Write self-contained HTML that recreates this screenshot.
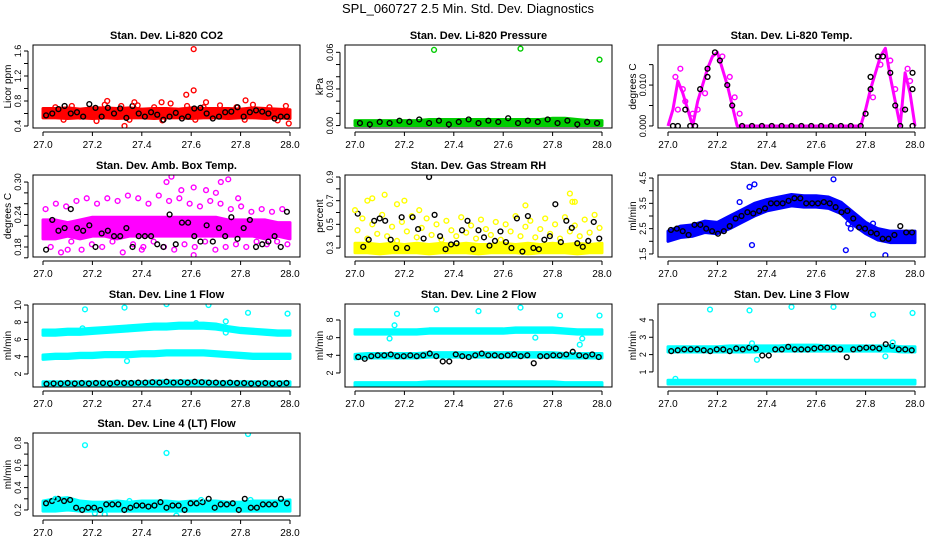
<!DOCTYPE html>
<html><head><meta charset="utf-8"><style>
body{margin:0;background:#fff}
svg{display:block}
text{font-family:"Liberation Sans",sans-serif}
</style></head><body>
<svg id="c" width="936" height="540" viewBox="0 0 936 540" xmlns="http://www.w3.org/2000/svg">
<text x="468" y="13" text-anchor="middle" font-size="13">SPL_060727  2.5 Min. Std. Dev. Diagnostics</text>
</svg>
<script>
// ---------- data ----------
const xTicks=[27.0,27.2,27.4,27.6,27.8,28.0];
const xTickLabels=["27.0","27.2","27.4","27.6","27.8","28.0"];
const bandX=[27.0,27.05,27.1,27.15,27.2,27.25,27.3,27.35,27.4,27.45,27.5,27.55,27.6,27.65,27.7,27.75,27.8,27.85,27.9,27.95,28.0];

// P1 CO2
const co2Lo=[0.53,0.53,0.52,0.53,0.52,0.53,0.52,0.53,0.53,0.52,0.53,0.53,0.52,0.53,0.53,0.52,0.53,0.53,0.52,0.53,0.52];
const co2Hi=[0.68,0.68,0.69,0.67,0.69,0.69,0.68,0.69,0.67,0.68,0.68,0.67,0.69,0.68,0.68,0.68,0.67,0.69,0.68,0.67,0.66];
const co2Scatter=[0.62,0.7,0.5,0.72,0.55,0.66,0.48,0.74,0.6,0.72,0.5,0.73,0.58,0.7,0.49,0.76,0.62,0.72,0.5,0.7,0.55,0.73,0.6,0.7,0.5,0.74,0.63,0.7,0.49,0.72];
const co2OutX=[27.61,27.61,27.58,27.33,27.995,27.82,27.26,27.48,27.37,27.66];
const co2OutY=[1.63,0.97,0.9,0.4,0.44,0.81,0.8,0.78,0.78,0.78];
const co2Black=[0.57,0.6,0.67,0.72,0.6,0.62,0.55,0.75,0.69,0.55,0.69,0.6,0.68,0.53,0.72,0.6,0.55,0.62,0.58,0.5,0.55,0.61,0.52,0.55,0.68,0.69,0.6,0.52,0.55,0.62,0.63,0.7,0.55,0.62,0.65,0.63,0.6,0.52,0.55,0.55];

// P2 Pressure
const prLo=[0,0,0,0,0,0,0,0,0,0,0,0,0,0,0,0,0,0,0,0,0];
const prHi=[0.004,0.004,0.004,0.004,0.004,0.004,0.005,0.005,0.005,0.005,0.005,0.005,0.005,0.005,0.005,0.005,0.006,0.006,0.005,0.004,0.004];
const prOutX=[27.32,27.67,27.99];
const prOutY=[0.062,0.063,0.054];
const prBlack=[0.002,0.001,0.003,0.002,0.004,0.003,0.005,0.002,0.004,0.001,0.003,0.005,0.002,0.004,0.003,0.006,0.002,0.004,0.003,0.005,0.002,0.004,0.001,0.003,0.002];

// P3 Li-820 Temp (every 0.02)
const tempMag=[0,0.004,0.011,0.008,0.004,0,0.006,0.010,0.014,0.017,0.018,0.014,0.010,0.005,0,
0,0,0,0,0,0,0,0,0,0,0,0,0,0,0,0,0,0,0,0,0,0,0,0,0,
0.004,0.009,0.013,0.017,0.019,0.012,0.006,0,0.013,0.008,0];
const tempExtraX=[27.03,27.05,27.06,27.04,27.07,27.1,27.12,27.15,27.22,27.25,27.27,27.29,27.83,27.86,27.9,27.92,27.95,27.97,27.98];
const tempExtraY=[0.012,0.014,0.009,0.004,0.006,0.003,0.004,0.008,0.017,0.012,0.007,0.003,0.007,0.015,0.016,0.009,0.004,0.014,0.011];
const tempBlackX=[27.02,27.04,27.07,27.09,27.11,27.13,27.16,27.16,27.19,27.21,27.24,27.26,27.3,27.34,27.38,27.42,27.46,27.5,27.54,27.58,27.62,27.66,27.7,27.74,27.78,27.8,27.82,27.82,27.85,27.87,27.9,27.92,27.94,27.96,27.99,27.99,27.99];
const tempBlackY=[0,0,0.004,0,0,0.009,0.012,0.014,0.018,0.016,0.010,0.005,0,0,0,0,0,0,0,0,0,0,0,0,0,0.003,0.012,0.009,0.017,0.017,0.013,0.005,0,0.004,0.013,0.009,0];

// P4 Amb box temp
const ambLo=[0.195,0.195,0.2,0.195,0.2,0.2,0.195,0.2,0.2,0.2,0.2,0.2,0.2,0.2,0.2,0.2,0.2,0.2,0.195,0.2,0.195];
const ambHi=[0.23,0.23,0.225,0.23,0.235,0.235,0.235,0.235,0.235,0.235,0.235,0.235,0.235,0.235,0.235,0.23,0.23,0.23,0.23,0.225,0.225];
const ambScatter=[0.25,0.18,0.26,0.17,0.255,0.19,0.265,0.175,0.27,0.185,0.26,0.18,0.27,0.19,0.265,0.17,0.275,0.185,0.27,0.18,0.26,0.19,0.275,0.18,0.265,0.175,0.27,0.185,0.26,0.18,0.255,0.19,0.265,0.175,0.26,0.18,0.25,0.185,0.255,0.18,0.245,0.19,0.25,0.185,0.245,0.19,0.25,0.185];
const ambOutX=[27.5,27.52,27.75,27.72,27.61,27.56,27.7,27.61,27.1,27.4,27.66,27.79];
const ambOutY=[0.30,0.31,0.305,0.30,0.29,0.285,0.28,0.165,0.175,0.175,0.285,0.27];
const ambBlack=[0.175,0.23,0.21,0.215,0.25,0.215,0.21,0.22,0.18,0.205,0.21,0.2,0.2,0.215,0.18,0.2,0.2,0.2,0.185,0.18,0.24,0.185,0.225,0.225,0.2,0.19,0.22,0.19,0.215,0.2,0.235,0.195,0.215,0.23,0.18,0.185,0.19,0.2,0.18,0.245];

// P5 Gas stream RH
const rhLo=[0.26,0.26,0.25,0.26,0.26,0.26,0.25,0.26,0.26,0.26,0.25,0.26,0.26,0.26,0.25,0.26,0.26,0.26,0.25,0.26,0.26];
const rhHi=[0.34,0.34,0.33,0.34,0.33,0.34,0.33,0.34,0.33,0.34,0.33,0.33,0.34,0.33,0.34,0.33,0.34,0.33,0.34,0.33,0.34];
const rhScatter=[0.45,0.55,0.38,0.5,0.42,0.58,0.4,0.48,0.36,0.52,0.44,0.57,0.39,0.47,0.55,0.41,0.5,0.37,0.53,0.45,0.4,0.56,0.43,0.49,0.38,0.54,0.46,0.41,0.52,0.37,0.5,0.44,0.57,0.4,0.48,0.53,0.39,0.46,0.55,0.42,0.5,0.38,0.56,0.44,0.49,0.4,0.54,0.43,0.58,0.47];
const rhOutX=[27.0,27.05,27.07,27.12,27.17,27.2,27.87,27.88,27.89,27.69,27.26];
const rhOutY=[0.62,0.7,0.72,0.75,0.67,0.7,0.76,0.69,0.69,0.66,0.62];
const rhBlack=[0.59,0.31,0.37,0.53,0.55,0.53,0.37,0.3,0.56,0.3,0.56,0.46,0.38,0.9,0.58,0.4,0.29,0.33,0.34,0.45,0.53,0.29,0.45,0.39,0.32,0.36,0.44,0.35,0.3,0.55,0.27,0.57,0.3,0.29,0.37,0.4,0.67,0.35,0.53,0.47,0.34,0.31,0.36,0.52,0.38];

// P6 Sample flow
const sfLo=[2.0,2.15,2.2,2.35,2.3,2.5,2.75,3.0,3.2,3.3,3.4,3.35,3.35,3.3,3.1,2.65,2.3,2.05,1.95,1.95,1.95];
const sfHi=[2.4,2.6,2.65,2.8,2.75,3.0,3.25,3.5,3.65,3.75,3.85,3.8,3.8,3.75,3.55,3.15,2.75,2.5,2.4,2.4,2.4];
const sfOutX=[27.33,27.35,27.67,27.34,27.72,27.88,27.29,27.73,27.74,27.83];
const sfOutY=[4.15,4.25,4.45,1.85,1.65,1.45,3.55,2.7,2.5,2.7];
const sfBlack=[2.45,2.5,2.4,2.25,2.65,2.65,2.5,2.4,2.3,2.4,2.6,2.9,3.0,3.15,3.1,3.2,3.3,3.5,3.5,3.5,3.6,3.7,3.7,3.5,3.5,3.5,3.55,3.5,3.35,3.15,3.2,2.9,2.55,2.5,2.35,2.3,2.1,2.1,2.25,2.6,2.35,2.35];

// P7 Line 1
const l1aLo=[6.5,6.5,6.6,6.6,6.7,6.8,6.9,7.0,7.1,7.2,7.2,7.3,7.3,7.3,7.2,7.0,6.8,6.7,6.6,6.5,6.5];
const l1aHi=[7.1,7.1,7.2,7.2,7.3,7.4,7.5,7.6,7.7,7.8,7.8,7.9,7.9,7.9,7.8,7.5,7.3,7.2,7.1,7.0,7.0];
const l1bLo=[3.7,3.8,3.8,3.9,3.9,4.0,4.0,4.0,4.1,4.1,4.2,4.2,4.2,4.2,4.1,4.0,3.9,3.8,3.8,3.8,3.8];
const l1bHi=[4.2,4.3,4.3,4.4,4.4,4.5,4.5,4.5,4.6,4.6,4.7,4.7,4.7,4.7,4.6,4.5,4.4,4.3,4.3,4.3,4.3];
const l1cLo=[0.7,0.7,0.7,0.7,0.7,0.7,0.7,0.7,0.7,0.7,0.7,0.7,0.7,0.7,0.7,0.7,0.7,0.7,0.7,0.7,0.7];
const l1cHi=[1.1,1.1,1.1,1.1,1.1,1.1,1.1,1.1,1.1,1.2,1.2,1.2,1.2,1.2,1.1,1.1,1.1,1.1,1.1,1.1,1.1];
const l1OutX=[27.17,27.33,27.5,27.67,27.83,27.99,27.16,27.34,27.74,27.74,27.62];
const l1OutY=[9.5,9.7,10.1,10.0,9.1,9.0,7.3,3.5,8.1,6.8,7.9];
const l1Black=[0.85,0.9,0.9,0.95,0.9,0.95,0.9,0.95,0.95,0.9,1.0,0.95,0.95,1.0,1.0,1.05,1.0,1.1,1.0,1.05,1.0,1.1,1.05,1.0,1.0,0.95,1.0,0.95,0.95,0.9,0.9,0.95,0.9,0.9,0.95];

// P8 Line 2
const l2aLo=[6.4,6.4,6.4,6.4,6.4,6.4,6.5,6.5,6.5,6.5,6.5,6.5,6.5,6.6,6.6,6.6,6.6,6.5,6.4,6.4,6.4];
const l2aHi=[6.9,6.9,6.9,6.9,6.9,6.9,7.0,7.0,7.0,7.0,7.0,7.0,7.0,7.1,7.1,7.1,7.1,7.0,6.9,6.9,6.9];
const l2bLo=[3.6,3.7,3.7,3.7,3.7,3.7,3.8,3.8,3.8,3.8,3.8,3.8,3.8,3.8,3.8,3.8,3.8,3.7,3.7,3.7,3.7];
const l2bHi=[4.1,4.2,4.2,4.2,4.2,4.2,4.3,4.3,4.3,4.3,4.3,4.3,4.3,4.3,4.3,4.3,4.3,4.2,4.2,4.2,4.2];
const l2cLo=[0.5,0.5,0.5,0.5,0.5,0.5,0.5,0.5,0.5,0.5,0.5,0.5,0.5,0.5,0.5,0.5,0.5,0.5,0.5,0.5,0.5];
const l2cHi=[0.9,0.9,0.9,0.9,0.9,0.9,1.0,1.0,1.0,1.0,1.0,1.0,1.0,1.0,1.0,1.0,1.0,0.9,0.9,0.9,0.9];
const l2OutX=[27.17,27.33,27.5,27.67,27.83,27.99,27.16,27.14,27.73,27.91,27.92];
const l2OutY=[8.7,9.2,9.0,9.4,8.5,8.5,7.4,5.9,6.0,5.2,5.9];
const l2Black=[3.8,3.6,3.9,4.0,4.0,4.1,3.9,3.9,4.0,3.9,4.0,4.2,3.9,3.3,3.3,4.1,3.9,3.8,4.0,4.2,4.0,4.0,3.9,4.0,4.1,3.9,4.0,3.1,3.9,3.9,4.0,4.0,4.1,4.4,4.0,3.9,4.1,3.8];

// P9 Line 3
const l3aLo=[2.15,2.15,2.15,2.15,2.15,2.15,2.15,2.15,2.2,2.2,2.2,2.2,2.2,2.2,2.2,2.2,2.2,2.2,2.2,2.15,2.15];
const l3aHi=[2.45,2.45,2.45,2.45,2.45,2.5,2.5,2.5,2.5,2.5,2.55,2.55,2.55,2.5,2.5,2.5,2.5,2.5,2.5,2.45,2.45];
const l3bLo=[0.3,0.3,0.3,0.3,0.3,0.3,0.3,0.3,0.3,0.3,0.3,0.3,0.3,0.3,0.3,0.3,0.3,0.3,0.3,0.3,0.3];
const l3bHi=[0.52,0.52,0.52,0.52,0.52,0.52,0.52,0.52,0.52,0.52,0.52,0.52,0.52,0.52,0.52,0.52,0.52,0.52,0.52,0.52,0.52];
const l3OutX=[27.17,27.33,27.5,27.67,27.83,27.99,27.36,27.34,27.91,27.88,27.03];
const l3OutY=[4.6,4.55,4.75,4.75,4.3,4.4,1.7,2.65,2.7,1.9,0.6];
const l3Black=[2.2,2.25,2.3,2.3,2.3,2.25,2.2,2.3,2.3,2.2,2.35,2.3,2.4,2.35,1.95,1.95,2.3,2.3,2.45,2.3,2.3,2.3,2.35,2.4,2.4,2.35,2.3,1.85,2.3,2.35,2.4,2.4,2.35,2.6,2.5,2.3,2.3,2.25];

// P10 Line 4 (LT)
const l4Lo=[0.19,0.19,0.2,0.19,0.19,0.19,0.19,0.19,0.19,0.19,0.19,0.19,0.19,0.19,0.19,0.19,0.19,0.19,0.19,0.19,0.19];
const l4Hi=[0.28,0.3,0.31,0.28,0.27,0.27,0.28,0.27,0.28,0.28,0.28,0.27,0.28,0.28,0.28,0.27,0.27,0.28,0.28,0.28,0.29];
const l4OutX=[27.17,27.5,27.83,27.05,27.35,27.54,27.25,27.64,27.84,27.21];
const l4OutY=[0.78,0.71,0.88,0.3,0.28,0.15,0.16,0.29,0.29,0.17];
const l4Black=[0.26,0.28,0.3,0.28,0.29,0.22,0.2,0.22,0.22,0.2,0.25,0.25,0.25,0.2,0.22,0.24,0.24,0.23,0.24,0.27,0.22,0.24,0.24,0.2,0.26,0.26,0.27,0.3,0.22,0.25,0.25,0.26,0.2,0.3,0.22,0.22,0.25,0.25,0.25,0.3,0.26];

// ---------- drawing ----------
const NS="http://www.w3.org/2000/svg";
const svg=document.getElementById('c');
function mk(tag,attrs,parent){const e=document.createElementNS(NS,tag);for(const k in attrs)e.setAttribute(k,attrs[k]);(parent||svg).appendChild(e);return e;}
const colX=[43,355,668], rowTop=[45,175,304,433], rowBot=[128,257,387,516];
const RED="#ff0000",GRN="#00cc00",MAG="#ff00ff",YEL="#ffff00",BLU="#0000ff",CYA="#00ffff",BLK="#000000";

function panel(p){
  const g=mk('g',{});
  
  
  const x0=colX[p.c], top=rowTop[p.r], bot=rowBot[p.r];
  const L=x0-10,R=x0+257;
  const sx=v=>x0+(v-27)*247;
  const sy=v=>bot-(v-p.yd[0])/(p.yd[1]-p.yd[0])*(bot-top);
  const clip='cl'+p.c+p.r;
  const cp=mk('clipPath',{id:clip},g);mk('rect',{x:L,y:top,width:R-L,height:bot-top},cp);
  const plot=mk('g',{'clip-path':'url(#'+clip+')'},g);
  
  
  (p.bands||[]).forEach(b=>{
    let pts=bandX.map((x,i)=>sx(x)+','+sy(b.hi[i]));
    pts=pts.concat(bandX.slice().reverse().map((x,j)=>sx(x)+','+sy(b.lo[bandX.length-1-j])));
    const pg=mk('polygon',{points:pts.join(' '),fill:b.col,stroke:b.col,'stroke-width':3,'stroke-linejoin':'round'},plot);
    
    
  });
  if(p.line){const ln=mk('polyline',{points:p.line.v.map((v,i)=>sx(27+i/(p.line.v.length-1))+','+sy(v)).join(' '),fill:'none',stroke:p.line.col,'stroke-width':3,'stroke-linejoin':'round'},plot);
    
    }
  const dot=(x,y,col)=>{const c=mk('circle',{cx:sx(x),cy:sy(y),r:2.4,fill:'none',stroke:col,'stroke-width':1.4},plot);
    
    };
  (p.even||[]).forEach(s=>s.v.forEach((v,i)=>dot(27+(i+0.5)/s.v.length,v,s.col)));
  (p.pairs||[]).forEach(s=>s.x.forEach((x,i)=>dot(x,s.y[i],s.col)));
  const bx=mk('rect',{x:L,y:top,width:R-L,height:bot-top,fill:'none',stroke:'#000','stroke-width':1},g);
  
  
  mk('line',{x1:sx(27),x2:sx(28),y1:bot+4,y2:bot+4,stroke:'#000'},g);
  xTicks.forEach((t,i)=>{mk('line',{x1:sx(t),x2:sx(t),y1:bot+4,y2:bot+8,stroke:'#000'},g);
    const tx=mk('text',{x:sx(t),y:bot+20,'text-anchor':'middle','font-size':10},g);tx.textContent=xTickLabels[i];
    
    });
  const ax=L-5;
  mk('line',{x1:ax,x2:ax,y1:sy(p.yt[0]),y2:sy(p.yt[p.yt.length-1]),stroke:'#000'},g);
  p.yt.forEach(t=>{mk('line',{x1:ax-4,x2:ax,y1:sy(t),y2:sy(t),stroke:'#000'},g);});
  p.yl.forEach(t=>{const y=sy(t);const tx=mk('text',{x:ax-7,y:y,'text-anchor':'middle','font-size':9,transform:'rotate(-90 '+(ax-7)+' '+y+')'},g);tx.textContent=String(t.toFixed(p.dec));
    
    });
  const yc=(top+bot)/2;
  const yl=mk('text',{x:L-22,y:yc,'text-anchor':'middle','font-size':10,transform:'rotate(-90 '+(L-22)+' '+yc+')'},g);yl.textContent=p.ylab;
  
  
  const tt=mk('text',{x:(L+R)/2,y:top-6,'text-anchor':'middle','font-size':11,'font-weight':'bold'},g);tt.textContent=p.title;
  
  
}
function rng(a,b,s){const r=[];for(let v=a;v<=b+1e-9;v+=s)r.push(Math.round(v*1e6)/1e6);return r;}

panel({name:'co2-panel',c:0,r:0,yd:[0.368,1.696],yt:rng(0.4,1.6,0.2),yl:[0.4,0.8,1.2,1.6],dec:1,ylab:'Licor ppm',title:'Stan. Dev. Li-820 CO2',
 bands:[{lo:co2Lo,hi:co2Hi,col:RED}],even:[{v:co2Scatter,col:RED},{v:co2Black,col:BLK}],pairs:[{x:co2OutX,y:co2OutY,col:RED}]});
panel({name:'pressure-panel',c:1,r:0,yd:[-0.002,0.066],yt:[0,0.01,0.02,0.03,0.04,0.05,0.06],yl:[0,0.03,0.06],dec:2,ylab:'kPa',title:'Stan. Dev. Li-820 Pressure',
 bands:[{lo:prLo,hi:prHi,col:GRN}],even:[{v:prBlack,col:BLK}],pairs:[{x:prOutX,y:prOutY,col:GRN}]});
panel({name:'temp-panel',c:2,r:0,yd:[-0.0005,0.0198],yt:[0,0.005,0.01,0.015],yl:[0,0.01],dec:3,ylab:'degrees C',title:'Stan. Dev. Li-820 Temp.',
 line:{v:tempMag,col:MAG},pairs:[{x:tempExtraX,y:tempExtraY,col:MAG},{x:tempBlackX,y:tempBlackY,col:BLK}]});
panel({name:'amb-temp-panel',c:0,r:1,yd:[0.1615,0.313],yt:rng(0.16,0.30,0.02),yl:[0.18,0.24,0.30],dec:2,ylab:'degrees C',title:'Stan. Dev. Amb. Box Temp.',
 bands:[{lo:ambLo,hi:ambHi,col:MAG}],even:[{v:ambScatter,col:MAG},{v:ambBlack,col:BLK}],pairs:[{x:ambOutX,y:ambOutY,col:MAG}]});
panel({name:'rh-panel',c:1,r:1,yd:[0.224,0.917],yt:rng(0.3,0.9,0.1),yl:[0.3,0.5,0.7,0.9],dec:1,ylab:'percent',title:'Stan. Dev. Gas Stream RH',
 bands:[{lo:rhLo,hi:rhHi,col:YEL}],even:[{v:rhScatter,col:YEL},{v:rhBlack,col:BLK}],pairs:[{x:rhOutX,y:rhOutY,col:YEL}]});
panel({name:'sample-flow-panel',c:2,r:1,yd:[1.38,4.62],yt:rng(1.5,4.5,0.5),yl:[1.5,2.5,3.5,4.5],dec:1,ylab:'ml/min',title:'Stan. Dev. Sample Flow',
 bands:[{lo:sfLo,hi:sfHi,col:BLU}],even:[{v:sfBlack,col:BLK}],pairs:[{x:sfOutX,y:sfOutY,col:BLU}]});
panel({name:'line1-panel',c:0,r:2,yd:[0.49,10.12],yt:[2,4,6,8,10],yl:[2,4,6,8,10],dec:0,ylab:'ml/min',title:'Stan. Dev. Line 1 Flow',
 bands:[{lo:l1aLo,hi:l1aHi,col:CYA},{lo:l1bLo,hi:l1bHi,col:CYA},{lo:l1cLo,hi:l1cHi,col:CYA}],even:[{v:l1Black,col:BLK}],pairs:[{x:l1OutX,y:l1OutY,col:CYA}]});
panel({name:'line2-panel',c:1,r:2,yd:[0.41,9.81],yt:[2,4,6,8],yl:[2,4,6,8],dec:0,ylab:'ml/min',title:'Stan. Dev. Line 2 Flow',
 bands:[{lo:l2aLo,hi:l2aHi,col:CYA},{lo:l2bLo,hi:l2bHi,col:CYA},{lo:l2cLo,hi:l2cHi,col:CYA}],even:[{v:l2Black,col:BLK}],pairs:[{x:l2OutX,y:l2OutY,col:CYA}]});
panel({name:'line3-panel',c:2,r:2,yd:[0.13,4.92],yt:[1,2,3,4],yl:[1,2,3,4],dec:0,ylab:'ml/min',title:'Stan. Dev. Line 3 Flow',
 bands:[{lo:l3aLo,hi:l3aHi,col:CYA},{lo:l3bLo,hi:l3bHi,col:CYA}],even:[{v:l3Black,col:BLK}],pairs:[{x:l3OutX,y:l3OutY,col:CYA}]});
panel({name:'line4-panel',c:0,r:3,yd:[0.146,0.889],yt:[0.2,0.3,0.4,0.5,0.6,0.7,0.8],yl:[0.2,0.4,0.6,0.8],dec:1,ylab:'ml/min',title:'Stan. Dev. Line 4 (LT) Flow',
 bands:[{lo:l4Lo,hi:l4Hi,col:CYA}],even:[{v:l4Black,col:BLK}],pairs:[{x:l4OutX,y:l4OutY,col:CYA}]});
</script>
</body></html>
